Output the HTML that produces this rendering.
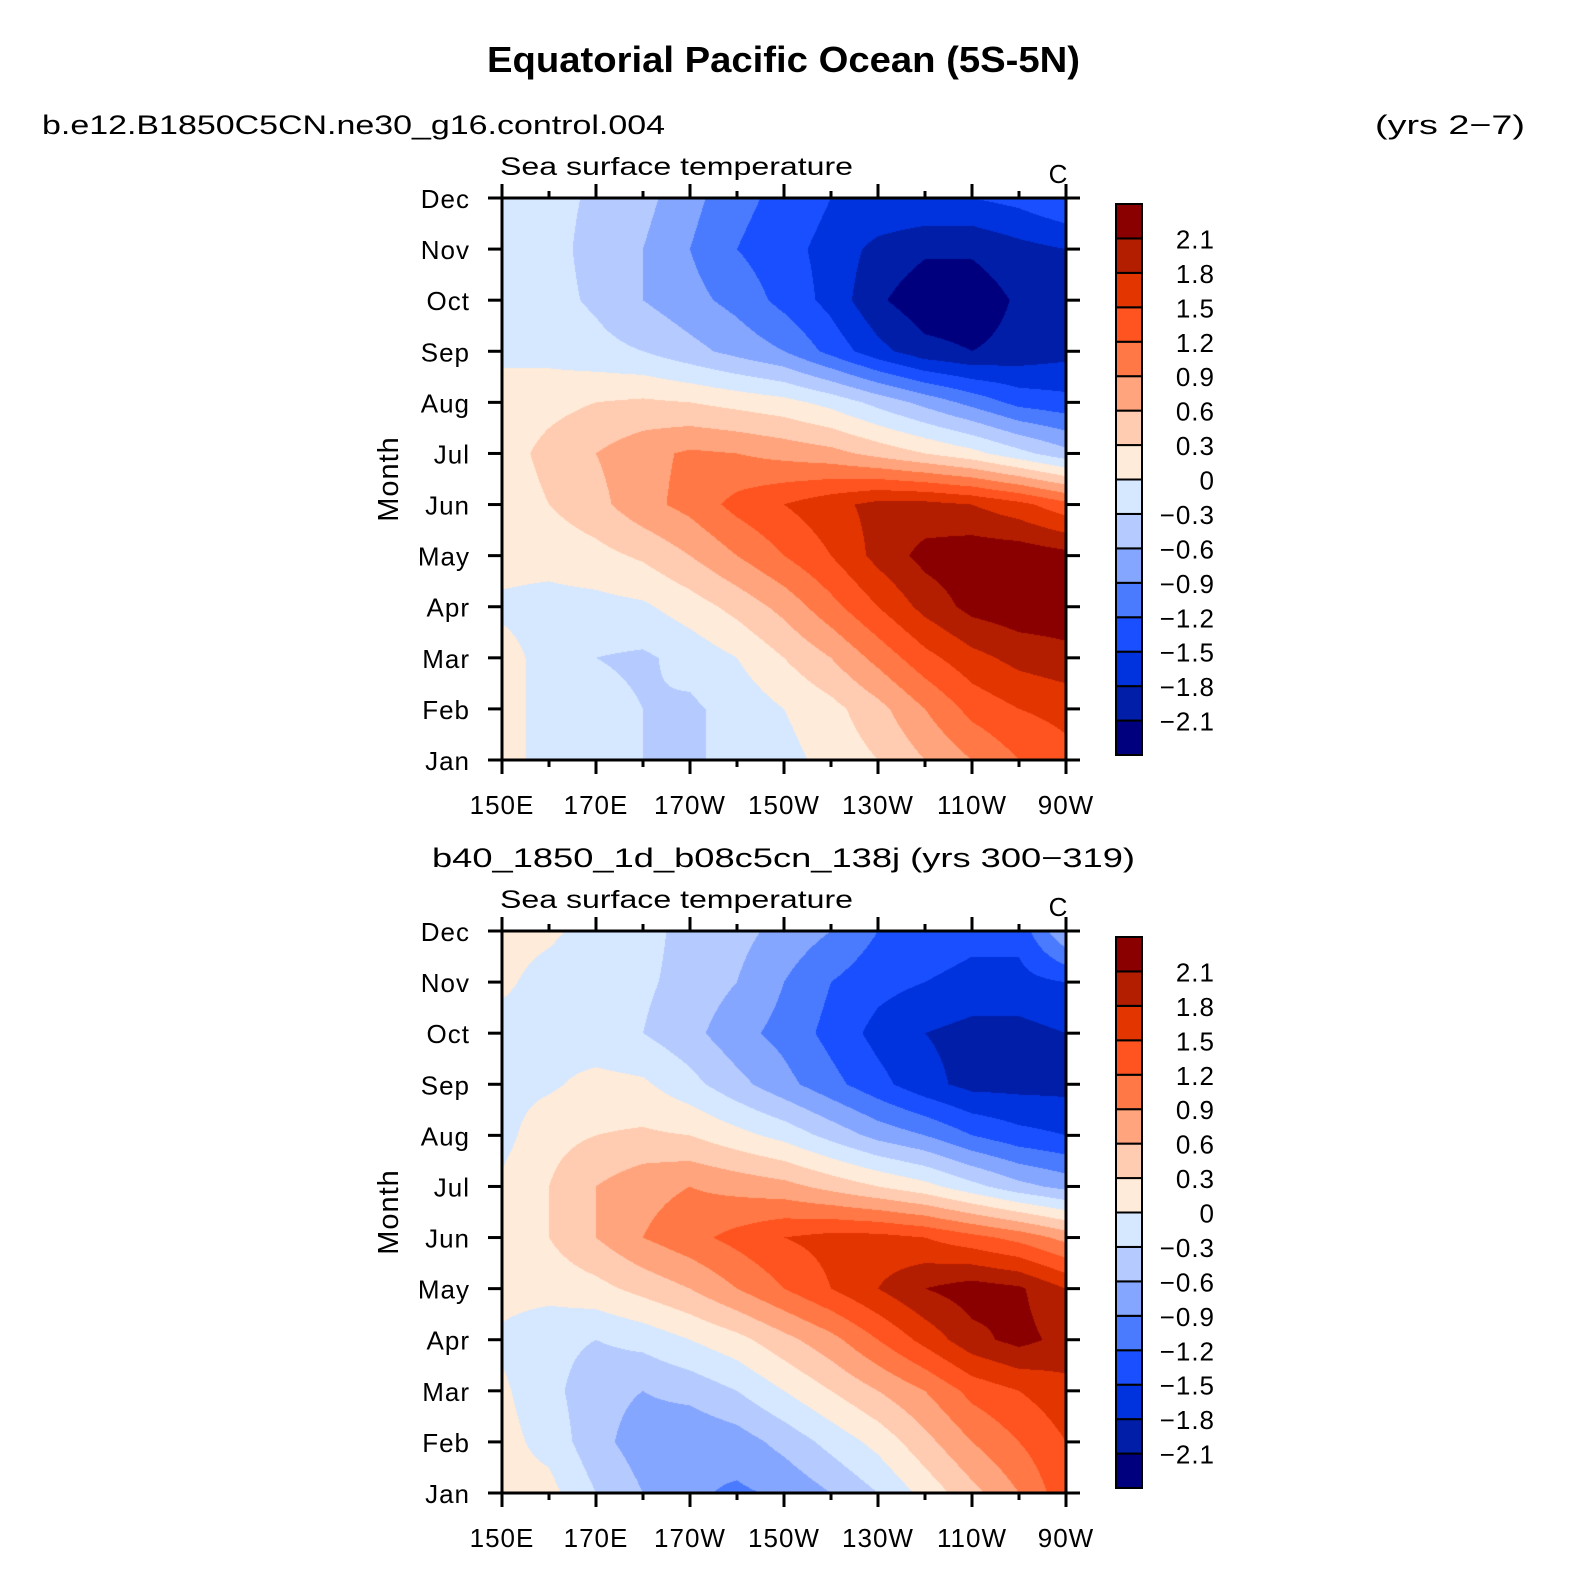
<!DOCTYPE html>
<html><head><meta charset="utf-8">
<style>
html,body{margin:0;padding:0;background:#fff;}
#wrap{position:relative;width:1591px;height:1588px;overflow:hidden;font-family:"Liberation Sans",sans-serif;}
canvas{position:absolute;left:0;top:0;}
svg{position:absolute;left:0;top:0;}
text{font-family:"Liberation Sans",sans-serif;fill:#000;}
</style></head>
<body>
<div id="wrap">
<canvas id="cv" width="1591" height="1588"></canvas>
<svg id="sv" width="1591" height="1588">
<text x="487" y="72" textLength="593" lengthAdjust="spacingAndGlyphs" font-size="36" font-weight="bold">Equatorial Pacific Ocean (5S-5N)</text>
<text x="42" y="134" textLength="623" lengthAdjust="spacingAndGlyphs" font-size="27">b.e12.B1850C5CN.ne30_g16.control.004</text>
<text x="1375" y="134" textLength="150" lengthAdjust="spacingAndGlyphs" font-size="27">(yrs 2−7)</text>
<text x="432" y="867" textLength="703" lengthAdjust="spacingAndGlyphs" font-size="27">b40_1850_1d_b08c5cn_138j (yrs 300−319)</text>
</svg>
</div>
<script>
const months = ["Jan","Feb","Mar","Apr","May","Jun","Jul","Aug","Sep","Oct","Nov","Dec"];
const lons = [150,160,170,180,190,200,210,220,230,240,250,260,270];
const xTickLons = [150,170,190,210,230,250,270];
const xTickLabels = ["150E","170E","170W","150W","130W","110W","90W"];
const levels = [-2.1,-1.8,-1.5,-1.2,-0.9,-0.6,-0.3,0,0.3,0.6,0.9,1.2,1.5,1.8,2.1];
const levelLabels = ["−2.1","−1.8","−1.5","−1.2","−0.9","−0.6","−0.3","0","0.3","0.6","0.9","1.2","1.5","1.8","2.1"];
const colors = ["#00007f","#001ea8","#0033dd","#1a4fff","#4a7bff","#85a6ff","#b5cbff","#d6e8ff","#ffebd9","#ffcbb1","#ffa47c","#ff7845","#ff5420","#e33500","#b31e00","#8a0000"];
const sst1 = [
[0.1,-0.1,-0.2,-0.3,-0.35,-0.2,-0.1,0.1,0.3,0.6,0.9,1.2,1.4],
[0.1,-0.1,-0.2,-0.3,-0.35,-0.2,0,0.2,0.5,0.9,1.3,1.5,1.6],
[0.1,-0.1,-0.3,-0.35,-0.2,0,0.3,0.6,1.0,1.4,1.7,1.9,2.0],
[-0.05,-0.1,-0.1,-0.05,0.15,0.4,0.7,1.1,1.5,1.9,2.2,2.3,2.3],
[0.1,0.1,0.2,0.35,0.6,0.9,1.2,1.5,1.9,2.2,2.3,2.3,2.2],
[0.1,0.3,0.5,0.8,1.0,1.3,1.5,1.7,1.9,1.9,1.8,1.6,1.3],
[0.15,0.4,0.6,0.8,0.95,0.9,0.8,0.7,0.5,0.3,0.1,-0.2,-0.5],
[0.1,0.2,0.3,0.35,0.3,0.2,0.1,-0.1,-0.4,-0.7,-1.0,-1.3,-1.4],
[-0.05,-0.1,-0.2,-0.3,-0.5,-0.7,-0.9,-1.3,-1.7,-2.0,-2.1,-2.0,-1.9],
[-0.1,-0.2,-0.35,-0.6,-0.8,-1.0,-1.3,-1.6,-2.05,-2.3,-2.3,-2.05,-1.9],
[-0.1,-0.2,-0.4,-0.6,-0.9,-1.2,-1.4,-1.6,-1.9,-2.05,-2.05,-1.9,-1.8],
[-0.1,-0.2,-0.35,-0.5,-0.8,-1.1,-1.3,-1.5,-1.5,-1.5,-1.5,-1.4,-1.2]];
const sst2 = [
[0.1,0.1,-0.3,-0.6,-0.85,-0.95,-0.85,-0.6,-0.3,0.1,0.5,0.9,1.4],
[0.1,-0.1,-0.5,-0.75,-0.85,-0.75,-0.5,-0.2,0.1,0.5,0.9,1.2,1.5],
[0.05,-0.2,-0.5,-0.6,-0.5,-0.3,0,0.3,0.6,0.9,1.3,1.5,1.7],
[-0.05,-0.2,-0.3,-0.2,0,0.2,0.5,0.8,1.2,1.6,2.0,2.2,2.0],
[0.1,0.1,0.2,0.4,0.6,0.9,1.2,1.5,1.8,2.1,2.25,2.15,1.8],
[0.1,0.3,0.6,0.9,1.1,1.3,1.5,1.6,1.6,1.5,1.3,1.1,0.8],
[0.05,0.3,0.6,0.8,0.9,0.8,0.7,0.5,0.3,0.1,-0.2,-0.5,-0.7],
[-0.1,0.2,0.3,0.35,0.3,0.1,-0.1,-0.4,-0.7,-0.9,-1.2,-1.4,-1.5],
[-0.1,-0.05,0.1,0.05,-0.2,-0.5,-0.8,-1.1,-1.4,-1.7,-1.9,-1.9,-1.9],
[-0.1,-0.1,-0.2,-0.3,-0.5,-0.8,-1.0,-1.3,-1.6,-1.8,-1.9,-1.9,-1.8],
[0.05,-0.1,-0.2,-0.25,-0.4,-0.6,-0.9,-1.2,-1.4,-1.5,-1.6,-1.6,-1.5],
[0.1,0.05,-0.1,-0.2,-0.4,-0.5,-0.7,-0.9,-1.2,-1.3,-1.4,-1.4,-0.6]];

const NS="http://www.w3.org/2000/svg";
const svg=document.getElementById('sv');
const ctx=document.getElementById('cv').getContext('2d');
function mk(tag,attrs,parent){const e=document.createElementNS(NS,tag);for(const k in attrs)e.setAttribute(k,attrs[k]);(parent||svg).appendChild(e);return e;}
function hex(c){return [parseInt(c.substr(1,2),16),parseInt(c.substr(3,2),16),parseInt(c.substr(5,2),16)];}
const rgb=colors.map(hex);
function colorIdx(v){let i=0;while(i<levels.length&&v>=levels[i])i++;return i;}

function panel(data,top,pname){
  const L=502,R=1066,T=top,B=top+562;
  const xs=lon=>L+(lon-150)/120*(R-L);
  const ys=m=>B-m/11*(B-T);
  const W=R-L,H=B-T;
  const img=ctx.createImageData(W,H);
  for(let py=0;py<H;py++){
    const m=(B-(T+py+0.5))/(B-T)*11;
    const m0=Math.max(0,Math.min(10,Math.floor(m))),fm=m-m0;
    for(let px=0;px<W;px++){
      const li=(px+0.5)/W*(lons.length-1);
      const l0=Math.max(0,Math.min(lons.length-2,Math.floor(li))),fl=li-l0;
      const v=(data[m0][l0]*(1-fl)+data[m0][l0+1]*fl)*(1-fm)+(data[m0+1][l0]*(1-fl)+data[m0+1][l0+1]*fl)*fm;
      const c=rgb[colorIdx(v)];const k=(py*W+px)*4;
      img.data[k]=c[0];img.data[k+1]=c[1];img.data[k+2]=c[2];img.data[k+3]=255;
    }
  }
  ctx.putImageData(img,L,T);
  const g=mk('g',{});
  
  
  const fr=mk('rect',{x:L,y:T,width:W,height:H,fill:'none',stroke:'#000','stroke-width':3},g);
  
  
  months.forEach((mn,i)=>{
    const y=ys(i);
    mk('line',{x1:L-14,x2:L,y1:y,y2:y,stroke:'#000','stroke-width':3},g);
    mk('line',{x1:R,x2:R+14,y1:y,y2:y,stroke:'#000','stroke-width':3},g);
    const t=mk('text',{x:470,y:y+10,'text-anchor':'end','font-size':26,'letter-spacing':1},g);
    t.textContent=mn;
    
    
  });
  for(let lon=150;lon<=270;lon+=10){
    const x=xs(lon),major=(lon-150)%20===0,len=major?14:7;
    mk('line',{x1:x,x2:x,y1:B,y2:B+len,stroke:'#000','stroke-width':3},g);
    mk('line',{x1:x,x2:x,y1:T-len,y2:T,stroke:'#000','stroke-width':3},g);
  }
  xTickLons.forEach((lon,i)=>{
    const t=mk('text',{x:xs(lon),y:B+54,'text-anchor':'middle','font-size':26,'letter-spacing':1},g);
    t.textContent=xTickLabels[i];
    
    
  });
  const st=mk('text',{x:500,y:T-23,'font-size':25,textLength:353,lengthAdjust:'spacingAndGlyphs'},g);st.textContent='Sea surface temperature';
  
  
  const cu=mk('text',{x:1058,y:T-15,'text-anchor':'middle','font-size':26},g);cu.textContent='C';
  
  
  const yt=mk('text',{x:0,y:0,'text-anchor':'middle','font-size':29,'letter-spacing':1,transform:`translate(398,${(T+B)/2}) rotate(-90)`},g);yt.textContent='Month';
  
  
  const cb=mk('g',{},g);
  
  
  const cT=T+6,cB=T+557,bh=(cB-cT)/colors.length;
  for(let i=0;i<colors.length;i++){
    const r=mk('rect',{x:1116,y:cB-(i+1)*bh,width:26,height:bh,fill:colors[i],stroke:'#000','stroke-width':2},cb);
    
    
  }
  levels.forEach((lv,i)=>{
    const t=mk('text',{x:1215,y:cB-(i+1)*bh+10,'text-anchor':'end','font-size':26,'letter-spacing':1},cb);
    t.textContent=levelLabels[i];
    
    
  });
}
panel(sst1,198,'panel-control');
panel(sst2,931,'panel-b40');
</script>
</body></html>
